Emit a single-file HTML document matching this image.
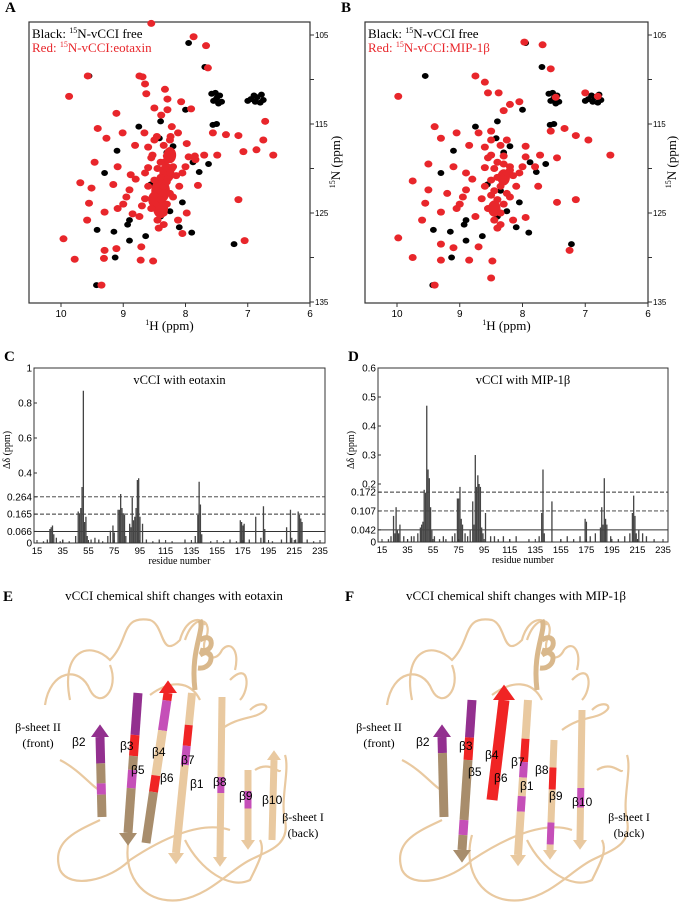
<!DOCTYPE html>
<html><head><meta charset="utf-8"><style>
body{margin:0;background:#fff}
svg{display:block;font-family:"Liberation Serif",serif}
.s{font-family:"Liberation Sans",sans-serif}
</style></head><body>
<svg id="fig" width="683" height="912" viewBox="0 0 683 912" xmlns="http://www.w3.org/2000/svg">
<g id="spec"></g>
<g id="bars"></g>
<g id="ribbons"></g>
</svg>
<script>
// ---------- NMR data (1H ppm, 15N ppm) ----------
const blackH=[7.69,7.95,7.5,7.45,7.55,6.95,6.85,6.75,7.0,8.0,7.56,7.5,8.4,8.42,7.88,7.78,7.63,8.56,8.9,8.93,9.42,9.15,8.9,9.13,7.22,9.43,8.64,8.05,8.3,8.35,8.25,8.4,9.1,9.3,8.75,8.1,7.9,9.55,7.42,7.58,6.9,6.8,8.2,8.3,7.47,7.52,6.88,6.78];
const blackN=[108.6,105.9,112.1,111.8,112.4,112.2,112.0,112.3,112.4,113.4,115.1,115.0,114.7,116.6,119.3,120.4,119.5,121.8,125.8,126.3,126.9,127.1,128.1,130,128.5,133.1,127.6,123.8,121.0,122.5,124.8,125.4,118,120.5,115.3,126.6,127.2,109.6,112.5,111.6,111.8,112.6,117.5,118.2,112.7,111.5,112.5,111.7];
const redH=[8.55,7.87,7.67,7.64,9.57,8.74,8.69,8.65,8.63,9.87,8.33,8.29,8.07,7.91,9.11,8.5,8.29,8.39,8.22,8.12,8.24,9.41,9.01,8.66,8.46,7.56,7.35,7.15,6.75,6.72,9.27,8.81,7.98,7.7,7.49,7.07,6.86,6.59,9.46,9.09,8.88,8.53,8.32,7.84,8.22,8.05,9.69,9.51,9.16,8.95,7.8,7.15,9.55,9.3,9.09,9.58,8.74,8.43,8.12,7.98,8.05,9.96,9.3,9.11,8.71,7.05,9.78,9.31,8.72,8.52,9.35,
8.4,8.35,8.3,8.45,8.5,8.4,8.3,8.55,8.35,8.6,8.25,8.2,8.15,8.45,8.5,8.65,8.7,8.4,8.3,8.55,8.6,8.25,8.45,8.35,8.2,8.1,8.5,8.35,8.25,8.6,8.0,7.95,7.85,8.8,8.9,9.0,8.85,8.65];
const redN=[103.7,105.2,106.2,108.7,109.6,109.6,109.7,110.5,111.6,111.9,111.1,112.2,112.5,113.3,113.8,113.2,113.4,114,115.3,116,116.4,115.5,116,116,116.4,116,116.2,116.3,116.8,114.7,116.6,117.4,117.2,118.5,118.5,118.1,117.9,118.5,119.3,119.8,120.7,118.5,119.2,119,120,120.5,121.6,122.2,121.8,123.2,121.9,123.5,123.9,124.9,124.5,125.8,125.4,126.7,125.8,125,127.3,127.9,129.2,129,128.8,128.1,130.2,130.1,130.3,130.4,133.1,
121,122,121.5,122.5,123,123.5,124,124.5,125,122,120.5,119.8,120.8,120,121.3,123.4,124.2,119.3,118.6,118.8,119.9,122.8,125.8,126.3,123.2,122,116.8,117.4,116.8,117.6,119.8,118.7,118.6,121.2,122.4,124,125.1,120.5];
// dense overlapping cluster blobs (H, N, width in ppm)
const blobAH=[8.4,8.3,8.25,8.4,8.5];
const blobAN=[122.5,120.5,118.5,124.5,123.5];
const blobAW=[0.15,0.12,0.1,0.12,0.1];
const redBH=[7.97,7.68,7.55,8.75,8.6,8.55,8.38,9.98,7.47,7.0,6.8,8.3,8.2,8.05,9.4,9.05,8.7,8.5,7.55,7.33,7.15,6.95,6.6,9.3,8.85,7.95,7.72,7.45,9.5,9.1,8.9,8.5,8.3,7.8,8.2,8.05,9.75,9.5,9.2,8.95,7.75,7.45,7.15,9.55,9.3,9.05,9.6,8.75,8.4,8.15,7.95,9.98,9.3,9.1,8.7,7.25,9.75,9.3,8.85,8.48,9.4,8.5,
8.4,8.35,8.3,8.45,8.5,8.4,8.3,8.55,8.35,8.6,8.25,8.2,8.15,8.45,8.5,8.65,8.4,8.3,8.55,8.6,8.25,8.45,8.35,8.2,8.1,8.5,8.35,8.25,8.6,8.0,7.95,8.8,8.9,9.0];
const redBN=[105.8,106.1,108.8,109.6,110.3,111.5,111.5,111.9,112,111.5,111.9,113.5,112.8,112.5,115.3,116,116,115.8,115.8,115.5,116.3,116.8,118.5,116.6,117.4,117.5,118.5,118.8,119.5,119.8,120.5,118.5,119.5,119.8,120.2,120.5,121.4,122.4,122.8,123.2,122,123.8,123.5,123.9,124.9,124.5,125.8,125.4,126.7,125.8,125.5,127.8,128.5,128.9,128.8,129.2,130,130.3,130.3,130.4,133.1,132.3,
121,122,121.5,122.5,123,123.5,124,124.5,125,122,120.5,119.8,120.8,120,121.3,123.4,119.3,118.6,118.8,119.9,122.8,125.8,126.3,123.2,122,116.8,117.4,116.8,117.6,119.8,118.7,121.2,122.4,124];
const blobBH=[8.3,8.45];
const blobBN=[121,124.5];
const blobBW=[0.1,0.1];
const hTicks=[10,9,8,7,6];
const nTicks=[105,115,125,135];

// ---------- Bar data ----------
const resC=[20,23,25,26,27,28,30,33,35,40,45,47,48,49,50,51,52,53,54,57,60,63,66,70,72,74,75,78,79,80,81,82,83,84,87,88,89,90,91,92,93,94,95,97,100,105,110,120,130,138,140,141,142,143,150,160,165,170,173,174,175,176,180,185,189,191,192,198,205,209,212,213,216,218,219,220,221,225,230];
const valC=[0.01,0.02,0.08,0.09,0.10,0.05,0.03,0.01,0.02,0.01,0.04,0.18,0.17,0.20,0.32,0.87,0.12,0.15,0.04,0.02,0.03,0.02,0.01,0.04,0.07,0.10,0.06,0.19,0.19,0.28,0.20,0.17,0.16,0.04,0.11,0.09,0.26,0.13,0.15,0.20,0.36,0.37,0.15,0.11,0.02,0.01,0.02,0.01,0.02,0.04,0.16,0.35,0.22,0.05,0.01,0.01,0.02,0.01,0.13,0.12,0.10,0.11,0.02,0.15,0.03,0.21,0.08,0.01,0.02,0.09,0.19,0.03,0.02,0.18,0.16,0.14,0.12,0.02,0.01];
const ticksC=[0,0.066,0.165,0.264,0.4,0.6,0.8,1];
const ticksCLbl=["0","0.066","0.165","0.264","0.4","0.6","0.8","1"];
const linesC=[0.066,0.165,0.264];
const resD=[20,22,24,25,26,27,28,29,32,35,38,40,43,45,46,47,48,49,50,51,52,53,54,56,60,63,65,70,72,74,75,76,77,78,80,82,84,86,87,88,89,90,91,92,93,94,96,100,103,106,110,115,120,130,138,140,141,142,148,155,160,165,170,174,175,178,182,186,187,188,189,190,191,194,200,205,209,211,212,213,214,216,219,222,228];
const valD=[0.01,0.02,0.09,0.03,0.12,0.04,0.03,0.06,0.02,0.01,0.02,0.02,0.03,0.05,0.06,0.07,0.18,0.17,0.47,0.25,0.22,0.12,0.04,0.02,0.01,0.02,0.01,0.02,0.03,0.15,0.15,0.19,0.08,0.06,0.03,0.02,0.04,0.14,0.06,0.30,0.19,0.23,0.20,0.19,0.05,0.03,0.10,0.02,0.02,0.01,0.02,0.01,0.02,0.01,0.02,0.10,0.25,0.03,0.14,0.01,0.02,0.01,0.02,0.08,0.07,0.02,0.03,0.05,0.12,0.06,0.22,0.08,0.06,0.02,0.01,0.02,0.03,0.10,0.16,0.09,0.03,0.04,0.03,0.02,0.01];
const ticksD=[0,0.042,0.107,0.172,0.2,0.3,0.4,0.5,0.6];
const ticksDLbl=["0","0.042","0.107","0.172","0.2","0.3","0.4","0.5","0.6"];
const linesD=[0.042,0.107,0.172];
const xTicks=[15,35,55,75,95,115,135,155,175,195,215,235];

const NS="http://www.w3.org/2000/svg";
function mk(tag,attrs,parent,txt){const e=document.createElementNS(NS,tag);for(const k in attrs)e.setAttribute(k,attrs[k]);if(txt!==undefined)e.textContent=txt;parent.appendChild(e);return e;}

// ---------- Spectra ----------
const spec=document.getElementById('spec');
function spectrum(x0,x1,hx10,hx6,title,legendRed,bH,bN,rH,rN,blH,blN,blW,labelX){
  const y0=22,y1=303;
  const sx=h=>hx10+(10-h)*(hx6-hx10)/4;
  const sy=n=>35+(n-105)*(302-35)/30;
  const g=mk('g',{},spec);
  
  
  const lb=mk('text',{x:x0-24,y:12,'font-size':15,'font-weight':'bold'},g,title);
  
  const fr=mk('rect',{x:x0,y:y0,width:x1-x0,height:y1-y0,fill:'none',stroke:'#333','stroke-width':1.2},g);
  
  for(let i=0;i<bH.length;i++){const p=mk('ellipse',{cx:sx(bH[i]),cy:sy(bN[i]),rx:3.4,ry:3,fill:'#000'},g);
    }
  for(let i=0;i<blH.length;i++){const w=blW[i]*(hx6-hx10)/4;const p=mk('ellipse',{cx:sx(blH[i]),cy:sy(blN[i]),rx:w,ry:w*1.3,fill:'#e8262b'},g);
    }
  for(let i=0;i<rH.length;i++){const p=mk('ellipse',{cx:sx(rH[i]),cy:sy(rN[i]),rx:4,ry:3.5,fill:'#e8262b'},g);
    }
  hTicks.forEach(h=>{mk('line',{x1:sx(h),x2:sx(h),y1:y1,y2:y1+4,stroke:'#333'},g);
    const t=mk('text',{x:sx(h),y:317,'font-size':10,'text-anchor':'middle',class:'s'},g,h);
    });
  nTicks.forEach(n=>{mk('line',{x1:x1,x2:x1+4,y1:sy(n),y2:sy(n),stroke:'#333'},g);
    const t=mk('text',{x:x1+5,y:sy(n)+3,'font-size':8,class:'s'},g,n);
    });
  [110,120,130].forEach(n=>mk('line',{x1:x1,x2:x1+4,y1:sy(n),y2:sy(n),stroke:'#333'},g));
  const xl=mk('text',{x:(x0+x1)/2,y:330,'font-size':13,'text-anchor':'middle'},g);
  xl.innerHTML='<tspan font-size="8" dy="-5">1</tspan><tspan dy="5">H (ppm)</tspan>';
  
  const yl=mk('text',{transform:`translate(${labelX},162) rotate(-90)`,'font-size':13,'text-anchor':'middle'},g);
  yl.innerHTML='<tspan font-size="8" dy="-5">15</tspan><tspan dy="5">N (ppm)</tspan>';
  
  const l1=mk('text',{x:x0+3,y:38,'font-size':13},g);
  l1.innerHTML='Black: <tspan font-size="8" dy="-5">15</tspan><tspan dy="5">N-vCCI free</tspan>';
  
  const l2=mk('text',{x:x0+3,y:52,'font-size':13,fill:'#e8262b'},g);
  l2.innerHTML='Red: <tspan font-size="8" dy="-5">15</tspan><tspan dy="5">'+legendRed+'</tspan>';
  
}
spectrum(29,310,61,310,'A','N-vCCI:eotaxin',blackH,blackN,redH,redN,blobAH,blobAN,blobAW,340);
spectrum(365,648,397,648,'B','N-vCCI:MIP-1β',blackH,blackN,redBH,redBN,blobBH,blobBN,blobBW,676);

// ---------- Bar charts ----------
const bars=document.getElementById('bars');
function barChart(o){
  const g=mk('g',{},bars);
  
  
  const sx=r=>o.px15+(r-15)*(o.px235-o.px15)/220;
  const sy=v=>o.y0-v*(o.y0-o.yTop)/o.vmax;
  const lb=mk('text',{x:o.x0-30,y:o.labelY,'font-size':15,'font-weight':'bold'},g,o.label);
  
  o.lines.forEach((v,i)=>{const l=mk('line',{x1:o.x0,x2:o.x1,y1:sy(v),y2:sy(v),stroke:'#333','stroke-width':i==0?1:0.9,'stroke-dasharray':i==0?'':'4,2'},g);
    });
  for(let i=0;i<o.res.length;i++){const v=o.vals[i];
    const b=mk('rect',{x:sx(o.res[i])-0.6,y:sy(v),width:1.3,height:o.y0-sy(v),fill:'#444'},g);
    }
  const fr=mk('rect',{x:o.x0,y:o.yTop,width:o.x1-o.x0,height:o.y0-o.yTop,fill:'none',stroke:'#333','stroke-width':1},g);
  
  o.ticks.forEach((v,i)=>{mk('line',{x1:o.x0,x2:o.x0+3,y1:sy(v),y2:sy(v),stroke:'#333'},g);
    const t=mk('text',{x:o.x0-2,y:sy(v)+3.5,'font-size':10,'text-anchor':'end',class:'s'},g,o.tl[i]);
    });
  xTicks.forEach(r=>{mk('line',{x1:sx(r),x2:sx(r),y1:o.y0,y2:o.y0-3,stroke:'#333'},g);
    const t=mk('text',{x:sx(r),y:o.y0+11,'font-size':9.5,'text-anchor':'middle',class:'s'},g,r);
    });
  const xt=mk('text',{x:(o.x0+o.x1)/2,y:o.y0+21,'font-size':10,'text-anchor':'middle'},g,'residue number');
  
  const yt=mk('text',{transform:`translate(${o.x0-24},${o.yTitle}) rotate(-90)`,'font-size':10,'text-anchor':'middle'},g,'Δδ (ppm)');
  
  const ti=mk('text',{x:(o.x0+o.x1)/2,y:o.yTop+16,'font-size':12.5,'text-anchor':'middle'},g,o.title);
  
}
barChart({label:'C',x0:34,x1:325,px15:37,px235:320,y0:543,yTop:368,vmax:1,res:resC,vals:valC,ticks:ticksC,tl:ticksCLbl,lines:linesC,title:'vCCI with eotaxin',labelY:361,yTitle:450});
barChart({label:'D',x0:378,x1:668,px15:382,px235:663,y0:542,yTop:368,vmax:0.6,res:resD,vals:valD,ticks:ticksD,tl:ticksDLbl,lines:linesD,title:'vCCI with MIP-1β',labelY:361,yTitle:450});

// ---------- Ribbon structures ----------
const rib=document.getElementById('ribbons');
const TAN='#e9c9a0',DTAN='#a88d6c',MAG='#c54fb8',PUR='#93308f',RED='#f02424';
function strand(g,x1,y1,x2,y2,w,segs,headUp,name){
  segs.forEach(s=>{const ax=x1+(x2-x1)*s[0],ay=y1+(y2-y1)*s[0],bx=x1+(x2-x1)*s[1],by=y1+(y2-y1)*s[1];
    const l=mk('line',{x1:ax,y1:ay,x2:bx,y2:by,stroke:s[2],'stroke-width':w},g);
    });
  const hx=headUp?x1:x2,hy=headUp?y1:y2,dir=headUp?-1:1;
  const hc=headUp?segs[0][2]:segs[segs.length-1][2];
  const p=mk('polygon',{points:`${hx-w},${hy} ${hx+w},${hy} ${hx},${hy+dir*w*1.4}`,fill:hc},g);
  
}
function structure(dx,title,label,cfg){
  const g=mk('g',{},rib);
  
  const lb=mk('text',{x:dx+3,y:601,'font-size':15,'font-weight':'bold'},g,label);
  
  const t=mk('text',{x:dx+174,y:600,'font-size':13,'text-anchor':'middle'},g,title);
  
  const loops=[
   'M70,700 C60,650 90,640 110,660 C130,640 120,615 150,620 C165,625 160,660 180,640 C185,620 200,615 205,625',
   'M45,705 C50,670 80,665 90,690 C100,710 120,690 110,665',
   'M185,640 C195,610 215,620 205,640 C200,655 215,665 222,650 C230,640 240,650 235,670',
   'M230,680 C250,660 250,690 240,700',
   'M100,820 C80,830 50,840 60,870 C70,890 110,880 130,860 C160,840 200,820 230,830',
   'M130,835 C120,870 140,905 180,900 C210,895 230,870 250,860 C270,850 290,845 285,820 C280,800 290,770 285,755',
   'M185,840 C200,870 230,890 250,880 C260,860 265,850 260,840',
   'M60,760 C80,770 95,790 100,790',
   'M220,730 C240,715 255,720 265,710 C270,705 260,700 250,710',
   'M150,695 C170,680 190,680 200,700',
   'M255,770 C270,760 280,775 280,770'
  ];
  loops.forEach(d=>{const p=mk('path',{d:d,fill:'none',stroke:TAN,'stroke-width':2.2,transform:`translate(${dx},0)`},g);
    });
  const hel=mk('path',{d:'M195,690 C190,650 205,630 200,620 M200,640 C215,630 215,655 200,650 M200,655 C215,645 215,670 198,668',fill:'none',stroke:'#d9b88c','stroke-width':5,transform:`translate(${dx},0)`},g);
  
  const sg=mk('g',{transform:`translate(${dx},0)`},g);
  cfg.strands.forEach(s=>strand(sg,s[0],s[1],s[2],s[3],s[4],s[5],s[6],s[7]));
  cfg.labels.forEach(l=>{const tx=mk('text',{x:dx+l[1],y:l[2],'font-size':12,class:'s'},g,l[0]);
    });
  const a=mk('text',{x:dx+cfg.s2x,y:731,'font-size':12,'text-anchor':'middle'},g);a.innerHTML='β-sheet II<tspan x="'+(dx+cfg.s2x)+'" dy="16">(front)</tspan>';
  
  const b=mk('text',{x:dx+cfg.s1x,y:821,'font-size':12,'text-anchor':'middle'},g);b.innerHTML='β-sheet I<tspan x="'+(dx+cfg.s1x)+'" dy="16">(back)</tspan>';
  
}
structure(0,'vCCI chemical shift changes with eotaxin','E',{s2x:38,s1x:303,
 strands:[
  [100,737,102,817,9,[[0,0.33,PUR],[0.33,0.58,DTAN],[0.58,0.72,MAG],[0.72,1,DTAN]],true,'strand-b2'],
  [138,693,128,833,9,[[0,0.3,PUR],[0.3,0.45,RED],[0.45,0.55,DTAN],[0.55,0.68,MAG],[0.68,1,DTAN]],false,'strand-b3'],
  [168,693,146,843,9,[[0,0.05,RED],[0.05,0.25,MAG],[0.25,0.55,TAN],[0.55,0.66,RED],[0.66,1,DTAN]],true,'strand-b4'],
  [192,693,176,853,8,[[0,0.2,TAN],[0.2,0.33,RED],[0.33,0.45,MAG],[0.45,1,TAN]],false,'strand-b7'],
  [222,697,220,857,7,[[0,0.5,TAN],[0.5,0.6,MAG],[0.6,1,TAN]],false,'strand-b8'],
  [248,770,248,840,7,[[0,0.3,TAN],[0.3,0.55,MAG],[0.55,1,TAN]],false,'strand-b9'],
  [274,760,272,840,7,[[0,1,TAN]],true,'strand-b10']],
 labels:[['β2',72,746],['β3',120,750],['β4',152,756],['β5',131,774],['β6',160,782],['β7',181,764],['β1',190,788],['β8',213,786],['β9',239,800],['β10',262,804]]});
structure(342,'vCCI chemical shift changes with MIP-1β','F',{s2x:37,s1x:287,
 strands:[
  [100,737,102,817,9,[[0,0.2,PUR],[0.2,1,DTAN]],true,'strand-b2'],
  [130,700,120,850,9,[[0,0.25,PUR],[0.25,0.4,RED],[0.4,0.8,DTAN],[0.8,0.9,MAG],[0.9,1,DTAN]],false,'strand-b3'],
  [162,700,150,800,11,[[0,1,RED]],true,'strand-b4'],
  [186,700,176,855,8,[[0,0.25,TAN],[0.25,0.4,RED],[0.4,0.5,MAG],[0.5,0.62,TAN],[0.62,0.72,MAG],[0.72,1,TAN]],false,'strand-b7'],
  [212,740,208,850,7,[[0,0.25,TAN],[0.25,0.45,RED],[0.45,0.75,TAN],[0.75,0.95,MAG],[0.95,1,TAN]],false,'strand-b9'],
  [240,710,238,840,7,[[0,0.6,TAN],[0.6,0.75,MAG],[0.75,1,TAN]],false,'strand-b10']],
 labels:[['β2',74,746],['β3',117,750],['β4',143,759],['β5',126,776],['β6',152,782],['β7',169,766],['β1',178,790],['β8',193,774],['β9',207,800],['β10',230,806]]});
</script>
</body></html>
